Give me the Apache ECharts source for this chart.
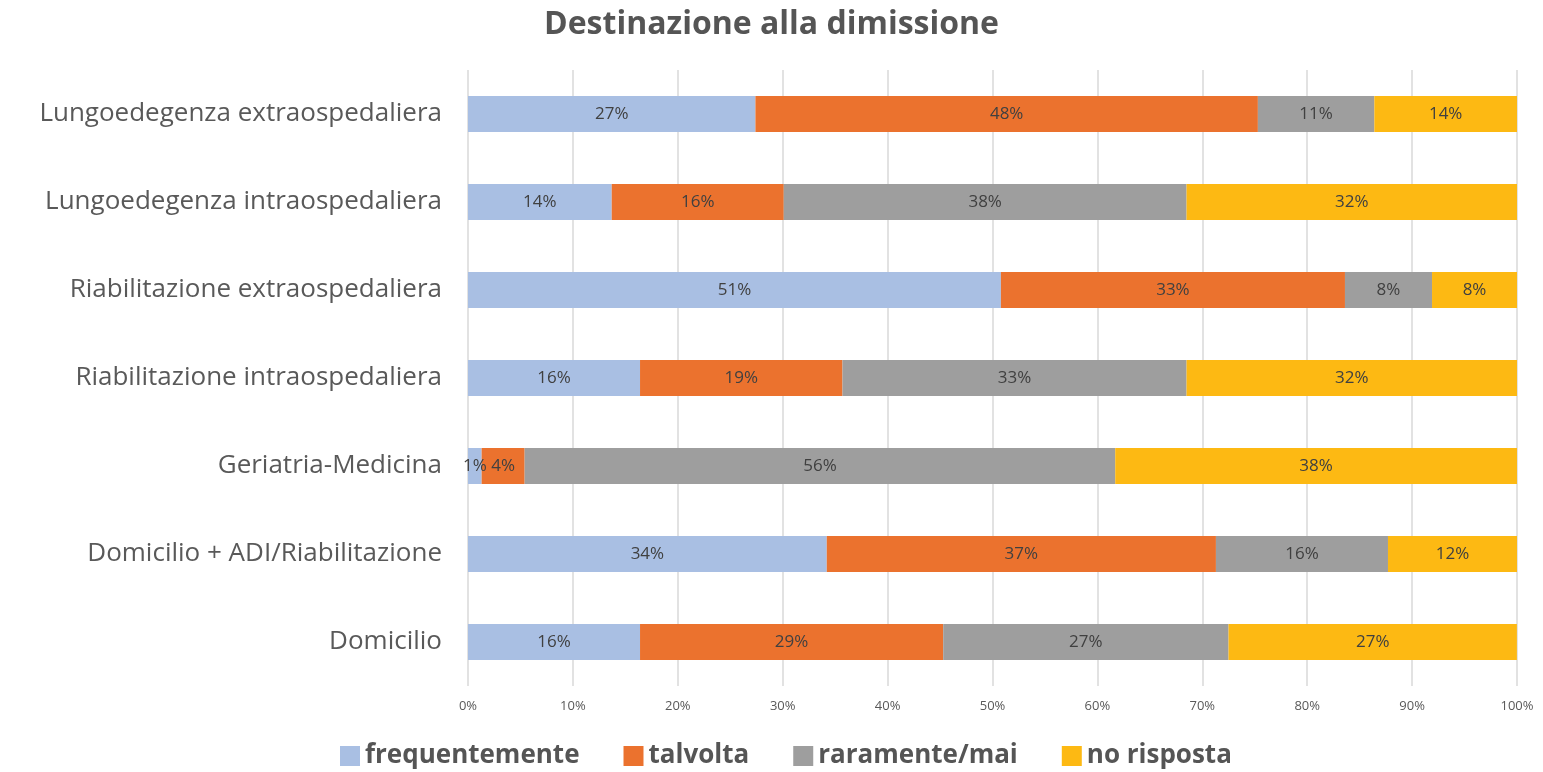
<!DOCTYPE html>
<html>
<head>
<meta charset="utf-8">
<script src="https://cdn.jsdelivr.net/npm/echarts@6/dist/echarts.min.js"></script>
<style>
  html, body { margin: 0; padding: 0; background: #fff; }
  #chart { width: 1543px; height: 772px; }
</style>
</head>
<body>
<div id="chart"></div>
<script>
  // categories, bottom to top (as ECharts draws a category y axis)
  const categories = [
    "Domicilio",
    "Domicilio + ADI/Riabilitazione",
    "Geriatria-Medicina",
    "Riabilitazione intraospedaliera",
    "Riabilitazione extraospedaliera",
    "Lungoedegenza intraospedaliera",
    "Lungoedegenza extraospedaliera",
  ];
  const seriesNames = ["frequentemente", "talvolta", "raramente/mai", "no risposta"];
  const frequentemente = [16.4, 34.2, 1.3, 16.4, 50.8, 13.7, 27.4];
  const talvolta = [28.9, 37.1, 4.1, 19.3, 32.8, 16.4, 47.9];
  const raramente = [27.2, 16.4, 56.3, 32.8, 8.3, 38.4, 11.1];
  const noRisposta = [27.49, 12.3, 38.3, 31.5, 8.1, 31.5, 13.6];
  const colors = ["#A9BFE3", "#EB722E", "#9E9E9E", "#FDB913"];

  const valueLists = [frequentemente, talvolta, raramente, noRisposta];
  const font = "'Open Sans', 'Noto Sans', sans-serif";

  const chart = echarts.init(document.getElementById("chart"));
  const option = {
    animation: false,
    color: colors,
    title: {
      text: "Destinazione alla dimissione",
      left: "center",
      top: 4,
      textStyle: { fontFamily: font, fontSize: 32, fontWeight: "bold", color: "#555" },
    },
    legend: {
      bottom: -2,
      left: 335,
      itemWidth: 20,
      itemHeight: 20,
      itemGap: 44,
      icon: "rect",
      data: seriesNames,
      textStyle: { fontFamily: font, fontSize: 26, fontWeight: "bold", color: "#555" },
    },
    grid: { left: 468, right: 26, top: 70, bottom: 86 },
    xAxis: {
      type: "value",
      min: 0,
      max: 100,
      interval: 10,
      axisLine: { show: false },
      axisTick: { show: false },
      splitLine: { lineStyle: { color: "#d9d9d9", width: 1.5 } },
      axisLabel: { formatter: "{value}%", fontFamily: font, fontSize: 13, color: "#595959", margin: 14 },
    },
    yAxis: {
      type: "category",
      data: categories,
      axisLine: { show: false },
      axisTick: { show: false },
      axisLabel: { fontFamily: font, fontSize: 26, color: "#595959", margin: 26 },
    },
    series: seriesNames.map((name, i) => ({
      name: name,
      type: "bar",
      stack: "total",
      barWidth: 36,
      data: valueLists[i],
      label: {
        show: true,
        position: "inside",
        fontFamily: font,
        fontSize: 17,
        color: "#404040",
        formatter: (p) => Math.round(p.value) + "%",
      },
    })),
  };
  chart.setOption(option);
</script>
</body>
</html>
